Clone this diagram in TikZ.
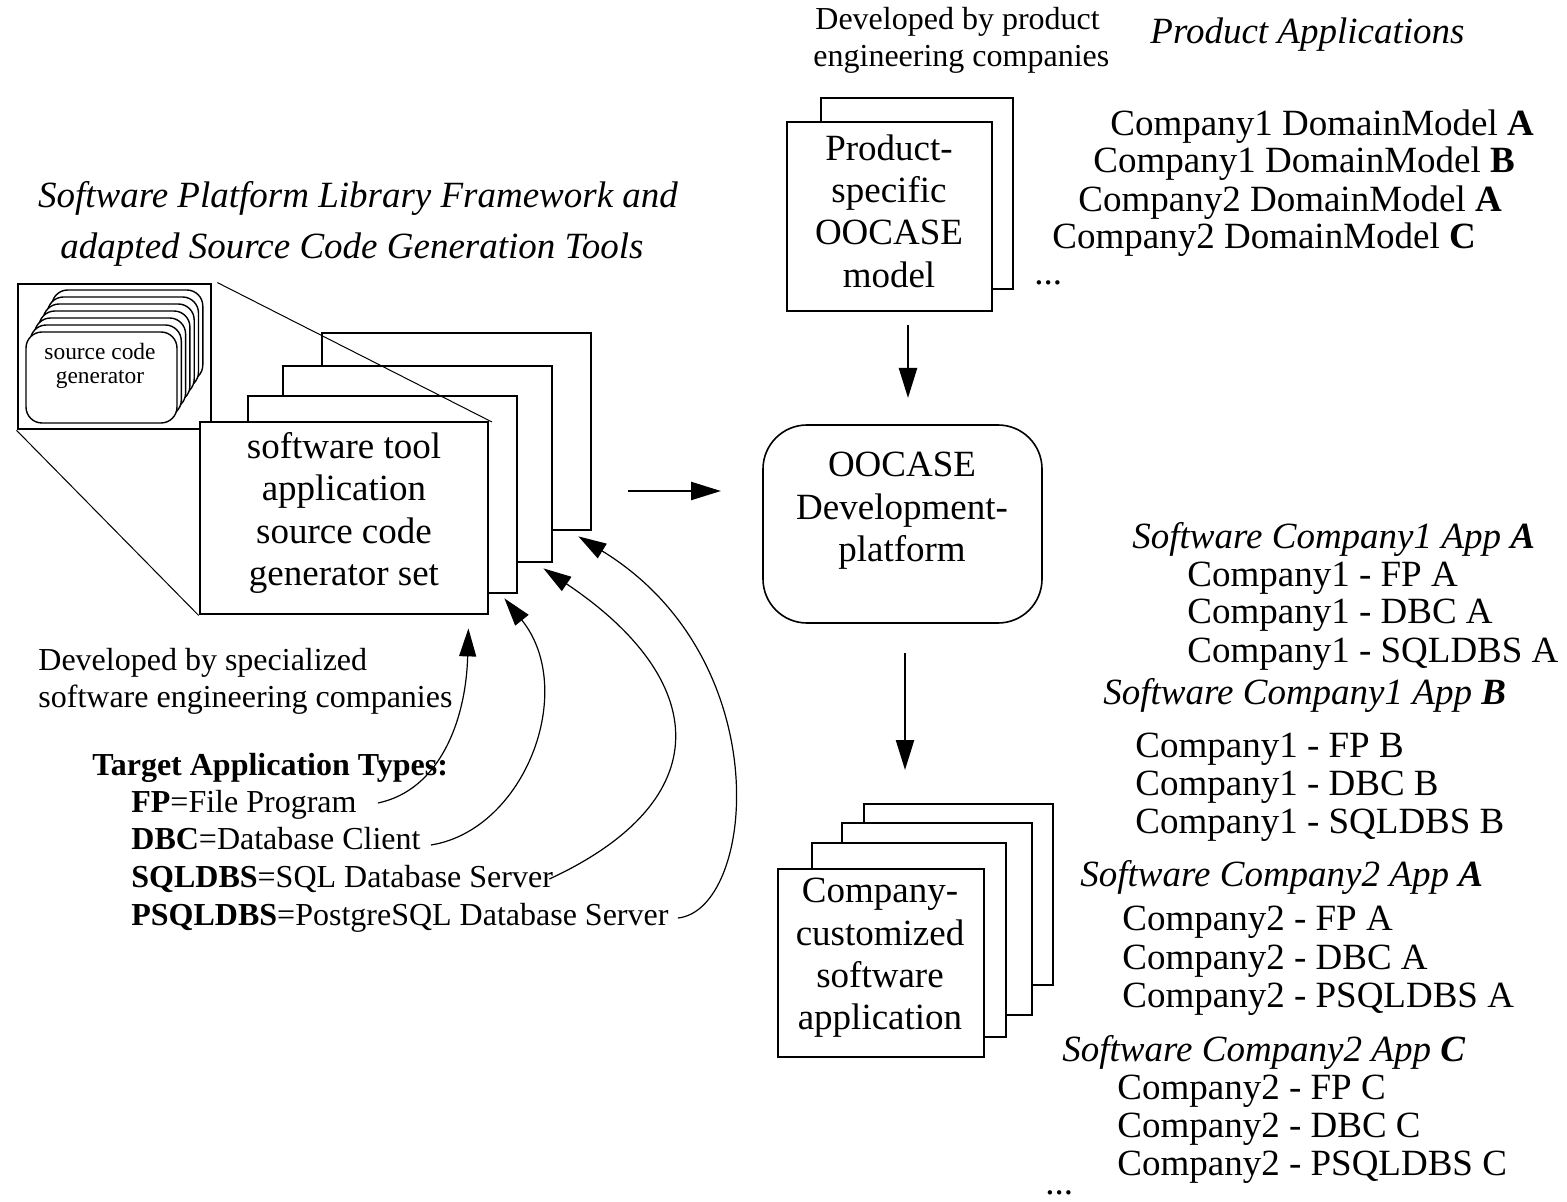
\documentclass[tikz,border=0pt]{standalone}
\usepackage{fontspec}
\setmainfont{Liberation Serif}
\usetikzlibrary{arrows.meta,calc}

\begin{document}
\begin{tikzpicture}[x=0.5pt,y=-0.5pt,
  sheet/.style={draw, fill=white, line width=1.4pt, inner sep=0pt},
  gensheet/.style={draw, fill=white, line width=0.7pt, rounded corners=8pt,
    minimum width=75.5pt, minimum height=45.5pt, inner sep=0pt},
  platform/.style={draw, fill=white, line width=0.8pt, rounded corners=22pt, inner sep=0pt},
  boxtext/.style={inner sep=0pt, align=center, font=\fontsize{18.5}{21.2}\selectfont},
  lbl/.style={inner sep=0pt, anchor=base west, font=\fontsize{18.5}{21}\selectfont},
  ital/.style={lbl, font=\fontsize{18.5}{21}\selectfont\itshape},
  small/.style={inner sep=0pt, anchor=base west, font=\fontsize{16}{18}\selectfont},
  zoomline/.style={line width=0.5pt},
  arr/.style={-{Triangle[length=15pt,width=9pt]}, line width=1.2pt},
  carr/.style={-{Triangle[length=14pt,width=8.5pt]}, line width=0.6pt},
]
\useasboundingbox (0,0) rectangle (1567,1202);

% ---------- title of the left part ----------
\node[inner sep=0pt, anchor=base, font=\fontsize{18.5}{21}\selectfont\itshape] (title1) at (358,208)
  {Software Platform Library Framework and};
\node[inner sep=0pt, anchor=base, font=\fontsize{18.5}{21}\selectfont\itshape] (title2) at (352,259)
  {adapted Source Code Generation Tools};

% ---------- stack of tool applications ----------
\node[sheet, minimum width=134.5pt, minimum height=98.5pt] (tool4) at (456.5,431.5) {};
\node[sheet, minimum width=134.5pt, minimum height=98pt]   (tool3) at (417.5,464) {};
\node[sheet, minimum width=134.5pt, minimum height=98.5pt] (tool2) at (382.5,494.5) {};

% magnified view of one application: a stack of generators
\node[sheet, minimum width=96.5pt, minimum height=72.5pt] (lens) at (114.5,356.5) {};
\foreach \k in {6,5,4,3,2,1}
  \node[gensheet] (gen\k) at ($(101.5,377.5)+\k*(4.3,-7)$) {};
\node[gensheet] (gen0) at (101.5,377.5) {};
\node[inner sep=0pt, align=center, font=\fontsize{11.7}{12}\selectfont] (gentext) at (100,366)
  {source code\\generator};

% zoom lines
\draw[zoomline] (lens.north east) ++(5,0) coordinate (lensNE) -- (492,422) coordinate (toolcorner);

\node[sheet, minimum width=144pt, minimum height=96pt] (tool) at (344,518) {};
\node[boxtext] (tooltext) at (344,513)
  {software tool\\application\\source code\\generator set};
\draw[zoomline] (lens.south west) -- (tool.south west);

% ---------- left annotations ----------
\node[small] (devspec1) at (38,670) {Developed by specialized};
\node[small] (devspec2) at (38,707) {software engineering companies};

\node[small, font=\fontsize{16}{18}\selectfont\bfseries] (target) at (92,775) {Target Application Types:};
\node[small] (fp)     at (131,812) {\textbf{FP}=File Program};
\node[small] (dbc)    at (131,849) {\textbf{DBC}=Database Client};
\node[small] (sqldbs) at (131,887) {\textbf{SQLDBS}=SQL Database Server};
\node[small] (psql)   at (131,925) {\textbf{PSQLDBS}=PostgreSQL Database Server};

% arrows from the application types to the stack
\coordinate (t1) at ($(tool.south east)+(-21,13)$);
\coordinate (t2) at ($(tool2.south east)+(-14,4)$);
\coordinate (t3) at ($(tool3.south east)+(-10,5)$);
\coordinate (t4) at ($(tool4.south east)+(-14,5)$);
\draw[carr] ([shift={(21,-9)}]fp.base east) .. controls (440,790) and (466,720) .. (t1);
\draw[carr] ([shift={(10,-4)}]dbc.base east) .. controls (525,830) and (578,690) .. (t2);
\draw[carr] ([shift={(-4,-8)}]sqldbs.base east) .. controls (720,800) and (710,680) .. (t3);
\draw[carr] ([shift={(9,-7)}]psql.base east) .. controls (755,910) and (780,660) .. (t4);

% ---------- central column ----------
\node[small] (devprod1) at (815,30) {Developed by product};
\node[small] (devprod2) at (813,67) {engineering companies};

\node[sheet, minimum width=96pt, minimum height=95.5pt] (prodback) at (917,193.5) {};
\node[sheet, minimum width=102.5pt, minimum height=94.5pt] (prod) at (889.5,216.5) {};
\node[boxtext] (prodtext) at (889,211) {Product-\\specific\\OOCASE\\model};
\node[lbl] (moremodels) at (1034,285) {...};

\node[platform, minimum width=139.5pt, minimum height=99pt] (ooc) at (902.5,524) {};
\node[boxtext] (ooctext) at (902,511) {OOCASE\\Development-\\platform};

\coordinate (a1s) at (908,325);
\coordinate (a1e) at (908,398);
\draw[arr] (a1s) -- (a1e);

\coordinate (hs) at (628,491);
\coordinate (he) at (721,491);
\draw[arr] (hs) -- (he);

\coordinate (a2s) at (905,653);
\coordinate (a2e) at (905,770);
\draw[arr] (a2s) -- (a2e);

\node[sheet, minimum width=94.5pt, minimum height=90.5pt] (app4) at (958.5,894.5) {};
\node[sheet, minimum width=95pt, minimum height=96pt]     (app3) at (937,919) {};
\node[sheet, minimum width=97pt, minimum height=97pt]     (app2) at (909,940) {};
\node[sheet, minimum width=103pt, minimum height=94pt]    (app)  at (881,963) {};
\node[boxtext] (apptext) at (880,958) {Company-\\customized\\software\\application};

% ---------- right column ----------
\node[ital] (prodapps) at (1150,44) {Product Applications};
\node[lbl] (dm1) at (1110,136) {Company1 DomainModel \textbf{A}};
\node[lbl] (dm2) at (1093,173) {Company1 DomainModel \textbf{B}};
\node[lbl] (dm3) at (1078,212) {Company2 DomainModel \textbf{A}};
\node[lbl] (dm4) at (1052,249) {Company2 DomainModel \textbf{C}};

\node[ital] (h1) at (1132,549) {Software Company1 App \textbf{A}};
\node[lbl] (c1fa) at (1187,587) {Company1 - FP A};
\node[lbl] (c1da) at (1187,624) {Company1 - DBC A};
\node[lbl] (c1sa) at (1187,662) {Company1 - SQLDBS A};

\node[ital] (h2) at (1103,704) {Software Company1 App \textbf{B}};
\node[lbl] (c1fb) at (1135,757) {Company1 - FP B};
\node[lbl] (c1db) at (1135,795) {Company1 - DBC B};
\node[lbl] (c1sb) at (1135,833) {Company1 - SQLDBS B};

\node[ital] (h3) at (1080,886) {Software Company2 App \textbf{A}};
\node[lbl] (c2fa) at (1122,930) {Company2 - FP A};
\node[lbl] (c2da) at (1122,969) {Company2 - DBC A};
\node[lbl] (c2pa) at (1122,1007) {Company2 - PSQLDBS A};

\node[ital] (h4) at (1062,1061) {Software Company2 App \textbf{C}};
\node[lbl] (c2fc) at (1117,1099) {Company2 - FP C};
\node[lbl] (c2dc) at (1117,1137) {Company2 - DBC C};
\node[lbl] (c2pc) at (1117,1175) {Company2 - PSQLDBS C};
\node[lbl] (moreapps) at (1045,1194) {...};

\end{tikzpicture}
\end{document}
